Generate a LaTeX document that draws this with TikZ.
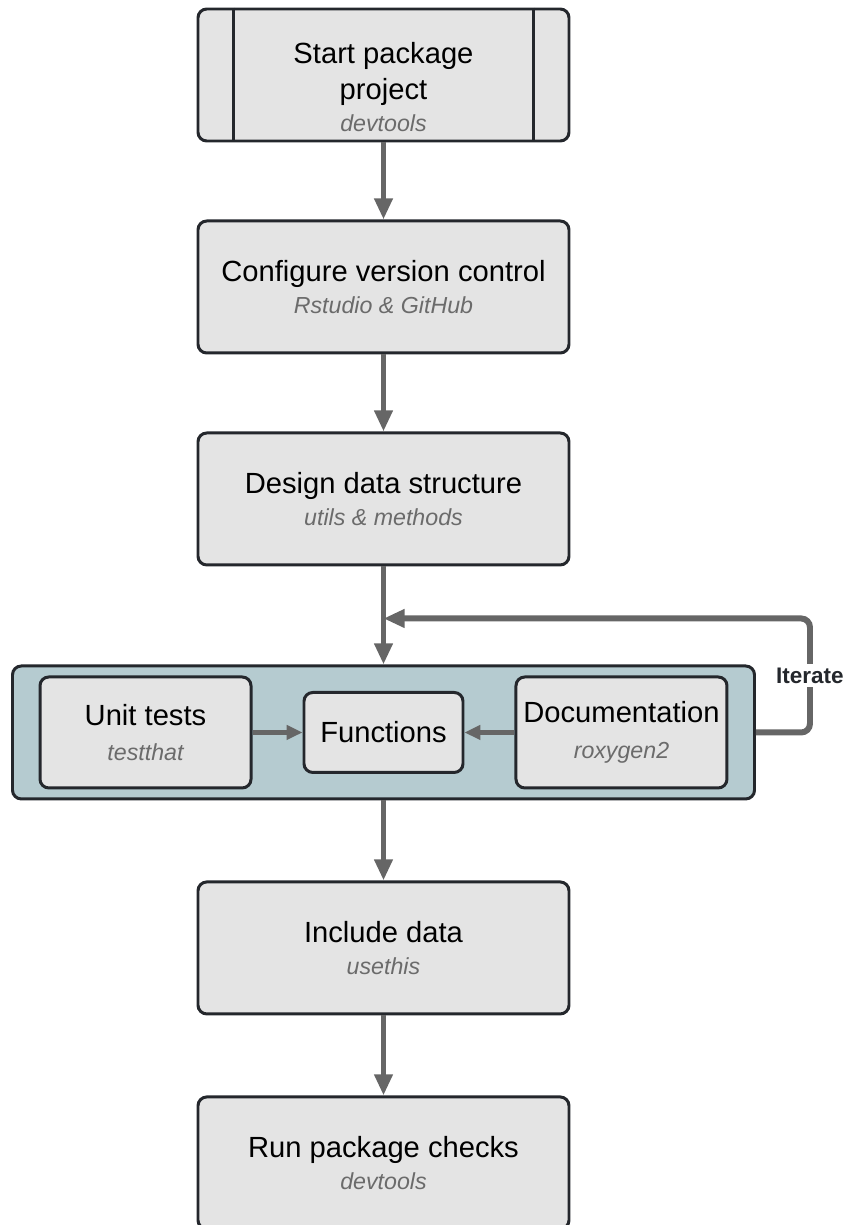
\documentclass[tikz,border=0pt]{standalone}
\usepackage{fontspec}
\setmainfont{Liberation Sans}
\usepackage{tikz}
\definecolor{boxfill}{HTML}{E4E4E4}
\definecolor{boxline}{HTML}{24272C}
\definecolor{groupfill}{HTML}{B5CBD0}
\definecolor{arrowgray}{HTML}{666666}
\definecolor{subgray}{HTML}{6B6B6B}
\usetikzlibrary{arrows.meta, positioning, calc}
\newcommand{\tool}[1]{{\fontsize{13.2}{15}\selectfont\itshape\color{subgray}#1}}

\begin{document}
\begin{tikzpicture}[
    stepbox/.style={draw=boxline, fill=boxfill, line width=1.7pt, rectangle,
                    rounded corners=5pt, minimum width=7.42cm, minimum height=2.64cm,
                    align=center, font=\fontsize{16.6}{20.4}\selectfont},
    innerbox/.style={stepbox, minimum width=4.22cm, minimum height=2.22cm},
    groupbox/.style={draw=boxline, fill=groupfill, line width=1.7pt, rectangle,
                     rounded corners=5pt, minimum width=14.84cm, minimum height=2.66cm},
    arrow/.style={-{Triangle[width=10pt,length=12pt]}, line width=3.4pt, arrowgray},
    smallarrow/.style={-{Triangle[width=8pt,length=9pt]}, line width=2.4pt, arrowgray}
]
    \useasboundingbox (-7.67,1.5) rectangle (9.29,-23);

    % Nodes
    \node[stepbox] (start) at (0,0) {};
    \node[align=center, font=\fontsize{16.6}{20.4}\selectfont] (starttext) at ([yshift=-0.24cm]start.center)
        {Start package\\project\\[-2pt]\tool{devtools}};
    \node[stepbox, below=1.54cm of start] (vcs) {Configure version control\\[-2pt]\tool{Rstudio \& GitHub}};
    \node[stepbox, below=1.54cm of vcs] (design) {Design data structure\\[-2pt]\tool{utils \& methods}};
    \node[groupbox, below=1.96cm of design] (group) {};
    \node[innerbox, minimum width=3.18cm, minimum height=1.6cm] (func) at (group.center) {Functions};
    \node[innerbox, left=1cm of func] (tests) {Unit tests\\[0pt]\tool{testthat}};
    \node[innerbox, right=1cm of func] (docs) {Documentation\\[0pt]\tool{roxygen2}};
    \node[stepbox, below=1.6cm of group] (data) {Include data\\[-2pt]\tool{usethis}};
    \node[stepbox, below=1.6cm of data] (checks) {Run package checks\\[-2pt]\tool{devtools}};

    % side bars of the start box
    \draw[boxline, line width=1.7pt] ([xshift=0.74cm]start.north west) -- ([xshift=0.74cm]start.south west);
    \draw[boxline, line width=1.7pt] ([xshift=-0.74cm]start.north east) -- ([xshift=-0.74cm]start.south east);

    \coordinate (join) at ($(design.south)+(0,-1.04)$);

    % Arrows
    \draw[arrow] (start) -- (vcs);
    \draw[arrow] (vcs) -- (design);
    \draw[arrow] (design) -- (group);
    \draw[arrow] (group) -- (data);
    \draw[arrow] (data) -- (checks);
    \draw[smallarrow] (tests) -- (func);
    \draw[smallarrow] (docs) -- (func);
    \draw[arrow, rounded corners=5pt] (group.east) -- ++(1.08,0)
        |- node[pos=0.25, fill=white, inner sep=2pt, text=boxline, font=\fontsize{12.8}{14}\selectfont\bfseries] (iterate) {Iterate} (join);
\end{tikzpicture}
\end{document}
